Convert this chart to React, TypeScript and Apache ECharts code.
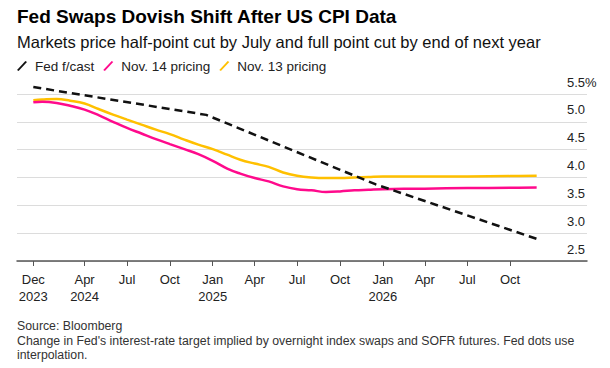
import React, { useEffect, useRef } from "react";
import * as echarts from "echarts";

const titleText = "Fed Swaps Dovish Shift After US CPI Data";
const subtitleText = "Markets price half-point cut by July and full point cut by end of next year";
const footerText =
  "Source: Bloomberg\nChange in Fed's interest-rate target implied by overnight index swaps and SOFR futures. Fed dots use\ninterpolation.";

const pricingDates = [
  "2023-12-13", "2024-01-01", "2024-02-01", "2024-03-01", "2024-04-01", "2024-05-01",
  "2024-06-01", "2024-07-01", "2024-08-01", "2024-09-01", "2024-10-01", "2024-11-01",
  "2024-12-01", "2025-01-01", "2025-02-01", "2025-03-01", "2025-04-01", "2025-05-01",
  "2025-06-01", "2025-07-01", "2025-08-01", "2025-09-01", "2025-10-01", "2025-11-01",
  "2025-12-01", "2026-01-01", "2026-04-01", "2026-07-01", "2026-10-01", "2026-11-27",
];
const nov14Values = [
  5.35, 5.36, 5.34, 5.29, 5.22, 5.12,
  5.0, 4.89, 4.79, 4.69, 4.6, 4.51,
  4.42, 4.3, 4.16, 4.07, 3.99, 3.93,
  3.84, 3.79, 3.77, 3.74, 3.75, 3.77,
  3.78, 3.79, 3.8, 3.81, 3.815, 3.82,
];
const nov13Values = [
  5.39, 5.4, 5.41, 5.38, 5.33, 5.23,
  5.13, 5.04, 4.95, 4.86, 4.78, 4.68,
  4.59, 4.51, 4.41, 4.32, 4.25, 4.19,
  4.09, 4.03, 4.0, 3.99, 3.99, 4.0,
  4.01, 4.02, 4.02, 4.02, 4.025, 4.03,
];
const fedDates = ["2023-12-13", "2024-12-18", "2025-12-17", "2026-12-05"];
const fedValues = [5.625, 5.125, 3.875, 2.875];

const tickDates = [
  "2023-12-13", "2024-04-01", "2024-07-01", "2024-10-01", "2025-01-01", "2025-04-01",
  "2025-07-01", "2025-10-01", "2026-01-01", "2026-04-01", "2026-07-01", "2026-10-01",
];
const tickLabels = [
  "Dec\n2023", "Apr\n2024", "Jul", "Oct", "Jan\n2025", "Apr",
  "Jul", "Oct", "Jan\n2026", "Apr", "Jul", "Oct",
];
const xMinDate = "2023-11-08";
const xMaxDate = "2027-03-15";

const seriesNames = ["Fed f/cast", "Nov. 14 pricing", "Nov. 13 pricing"];

const FONT = "'Liberation Sans', Arial, Helvetica, sans-serif";
const ms = (d: string) => Date.parse(d);

export default function App() {
  const ref = useRef<HTMLDivElement>(null);
  useEffect(() => {
    if (!ref.current) return;
    const chart = echarts.init(ref.current, undefined, { renderer: "svg" });
    const tickMs = tickDates.map(ms);
    const labelMap: Record<number, string> = {};
    tickMs.forEach((t, i) => (labelMap[t] = tickLabels[i]));
    const slash = "path://M0,9 L1.6,10 L10,1 L8.4,0 Z";

    chart.setOption({
      animation: false,
      textStyle: { fontFamily: FONT },
      title: [
        {
          text: titleText,
          left: 17,
          top: 7,
          padding: 0,
          textStyle: { fontSize: 19, fontWeight: "bold", color: "#000", fontFamily: FONT },
        },
        {
          text: subtitleText,
          left: 17,
          top: 33,
          padding: 0,
          textStyle: { fontSize: 16.5, fontWeight: "normal", color: "#111", fontFamily: FONT },
        },
        {
          text: footerText,
          left: 17,
          top: 319,
          padding: 0,
          textStyle: { fontSize: 12.3, fontWeight: "normal", color: "#333", lineHeight: 14.5, fontFamily: FONT },
        },
      ],
      legend: {
        data: seriesNames,
        left: 17,
        top: 59,
        padding: 0,
        itemWidth: 10,
        itemHeight: 10,
        itemGap: 9,
        icon: slash,
        textStyle: { fontSize: 13.5, color: "#222", fontFamily: FONT, padding: [0, 0, 0, 3] },
      },
      grid: { left: 17, right: 23, top: 94, bottom: 107, containLabel: false },
      xAxis: {
        type: "value",
        min: ms(xMinDate),
        max: ms(xMaxDate),
        splitLine: { show: false },
        axisLine: { show: true, lineStyle: { color: "#555", width: 1.5 } },
        axisTick: {
          show: true,
          customValues: tickMs,
          length: 5,
          lineStyle: { color: "#555", width: 1 },
        },
        axisLabel: {
          customValues: tickMs,
          formatter: (v: number) => labelMap[v] ?? "",
          fontSize: 13,
          lineHeight: 17,
          color: "#222",
          margin: 10,
          fontFamily: FONT,
        },
      },
      yAxis: {
        type: "value",
        position: "right",
        min: 2.5,
        max: 5.5,
        interval: 0.5,
        axisLine: { show: false },
        axisTick: { show: false },
        splitLine: { show: true, lineStyle: { color: "#dcdcdc", width: 1 } },
        axisLabel: {
          inside: true,
          align: "left",
          margin: 20,
          verticalAlign: "bottom",
          lineHeight: 14,
          padding: [0, 0, 5, 0],
          fontSize: 13,
          color: "#222",
          fontFamily: FONT,
          formatter: (v: number) => (v === 5.5 ? "5.5%" : v.toFixed(1)),
        },
      },
      series: [
        {
          name: "Nov. 13 pricing",
          type: "line",
          data: pricingDates.map((d, i) => [ms(d), nov13Values[i]]),
          smooth: 0.4,
          showSymbol: false,
          symbol: "none",
          clip: false,
          color: "#ffc000",
          lineStyle: { color: "#ffc000", width: 2.5 },
          z: 2,
        },
        {
          name: "Nov. 14 pricing",
          type: "line",
          data: pricingDates.map((d, i) => [ms(d), nov14Values[i]]),
          smooth: 0.4,
          showSymbol: false,
          symbol: "none",
          clip: false,
          color: "#ff0a8c",
          lineStyle: { color: "#ff0a8c", width: 2.5 },
          z: 3,
        },
        {
          name: "Fed f/cast",
          type: "line",
          data: fedDates.map((d, i) => [ms(d), fedValues[i]]),
          showSymbol: false,
          symbol: "none",
          clip: false,
          color: "#111",
          lineStyle: { color: "#111", width: 2.5, type: [8, 5] },
          z: 4,
        },
      ],
    });
    return () => chart.dispose();
  }, []);
  return (
    <div
      ref={ref}
      style={{ position: "fixed", left: 0, top: 0, width: 610, height: 368, background: "#fff" }}
    />
  );
}
